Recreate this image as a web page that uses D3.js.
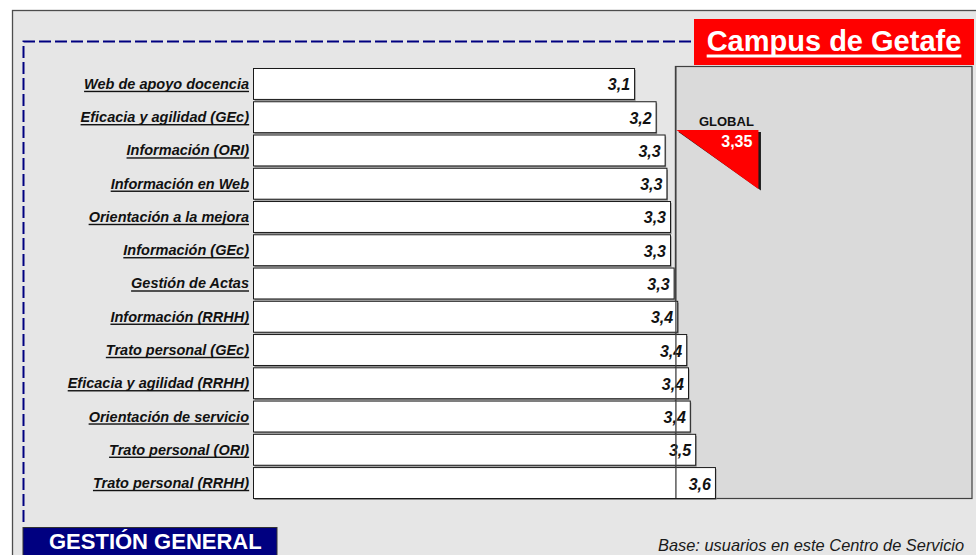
<!DOCTYPE html>
<html>
<head>
<meta charset="utf-8">
<script src="https://cdn.jsdelivr.net/npm/d3@7/dist/d3.min.js"></script>
<style>
  html, body { margin: 0; padding: 0; background: #ffffff; }
  svg { display: block; font-family: "Liberation Sans", Arial, sans-serif; }
</style>
</head>
<body>
<svg id="chart" width="976" height="555"></svg>
<script>
// Satisfaction scores (scale 1–5), Campus de Getafe, general management services
const categories = [
  "Web de apoyo docencia",
  "Eficacia y agilidad (GEc)",
  "Información (ORI)",
  "Información en Web",
  "Orientación a la mejora",
  "Información (GEc)",
  "Gestión de Actas",
  "Información (RRHH)",
  "Trato personal (GEc)",
  "Eficacia y agilidad (RRHH)",
  "Orientación de servicio",
  "Trato personal (ORI)",
  "Trato personal (RRHH)"
];
const scores = [3.12, 3.24, 3.29, 3.30, 3.32, 3.32, 3.34, 3.36, 3.41, 3.42, 3.43, 3.46, 3.57];
const globalScore = 3.35;
const scaleDomain = [1, 5];

const titleText = "Campus de Getafe";
const sectionText = "GESTIÓN GENERAL";
const globalLabel = "GLOBAL";
const baseNote = "Base: usuarios en este Centro de Servicio";

const locale = d3.formatLocale({ decimal: ",", thousands: ".", grouping: [3], currency: ["", " €"] });
const fmt1 = locale.format(".1f");
const fmt2 = locale.format(".2f");

const svg = d3.select("#chart");

// Panel background
svg.append("rect")
  .attr("x", 12.5).attr("y", 10.5)
  .attr("width", 980).attr("height", 560)
  .attr("fill", "#e6e6e6")
  .attr("stroke", "#4d4d4d").attr("stroke-width", 1.3);

// Dashed frame
svg.append("path")
  .attr("d", "M23.5,522 L23.5,41.5 L694,41.5")
  .attr("fill", "none")
  .attr("stroke", "#000080").attr("stroke-width", 2)
  .attr("stroke-dasharray", "12,4");

// Title box
svg.append("rect")
  .attr("x", 694).attr("y", 19).attr("width", 280).attr("height", 46)
  .attr("fill", "#ff0000");
const title = svg.append("text")
  .attr("x", 834).attr("y", 51)
  .attr("text-anchor", "middle")
  .attr("fill", "#ffffff")
  .attr("font-weight", "bold")
  .attr("font-size", 29)
  .text(titleText);
{
  const b = title.node().getBBox();
  svg.append("rect")
    .attr("x", b.x).attr("y", 54.5).attr("width", b.width).attr("height", 3)
    .attr("fill", "#ffffff");
}

// Scales
const plotTop = 66, plotBottom = 498;
const x = d3.scaleLinear().domain(scaleDomain).range([253, 972]);
const y = d3.scaleBand().domain(categories).range([plotTop, plotBottom]).paddingInner(0.07).paddingOuter(0.03).align(1);

// Area beyond the global score
svg.append("rect")
  .attr("x", x(globalScore)).attr("y", plotTop + 0.5)
  .attr("width", x(scaleDomain[1]) - x(globalScore)).attr("height", plotBottom - plotTop)
  .attr("fill", "#dadada")
  .attr("stroke", "#404040").attr("stroke-width", 1.2);

const rows = categories.map((c, i) => ({ cat: c, val: scores[i] }));

// Bar shadows
svg.append("g").selectAll("rect")
  .data(rows).join("rect")
  .attr("x", x(scaleDomain[0]) + 1.5)
  .attr("y", d => y(d.cat) + 2)
  .attr("width", d => x(d.val) - x(scaleDomain[0]))
  .attr("height", y.bandwidth())
  .attr("fill", "#8c8c8c");

// Bars
svg.append("g").selectAll("rect")
  .data(rows).join("rect")
  .attr("x", x(scaleDomain[0]) + 0.5)
  .attr("y", d => y(d.cat) + 0.5)
  .attr("width", d => x(d.val) - x(scaleDomain[0]))
  .attr("height", y.bandwidth())
  .attr("fill", "#ffffff")
  .attr("stroke", "#1a1a1a").attr("stroke-width", 1);

// Value labels
svg.append("g").selectAll("text")
  .data(rows).join("text")
  .attr("x", d => x(d.val) - 4)
  .attr("y", d => y(d.cat) + y.bandwidth() / 2 + 7)
  .attr("text-anchor", "end")
  .attr("font-size", 16)
  .attr("font-weight", "bold")
  .attr("font-style", "italic")
  .attr("fill", "#111111")
  .text(d => fmt1(d.val));

// Global reference line
svg.append("line")
  .attr("x1", x(globalScore) + 0.5).attr("x2", x(globalScore) + 0.5)
  .attr("y1", plotTop).attr("y2", plotBottom)
  .attr("stroke", "#404040").attr("stroke-width", 1.3);

// Category labels (underlined)
const labelG = svg.append("g");
rows.forEach(d => {
  const cy = y(d.cat) + y.bandwidth() / 2 + 5.5;
  const t = labelG.append("text")
    .attr("x", 249).attr("y", cy)
    .attr("text-anchor", "end")
    .attr("font-size", 14.5)
    .attr("font-weight", "bold")
    .attr("font-style", "italic")
    .attr("fill", "#111111")
    .text(d.cat);
  const b = t.node().getBBox();
  labelG.append("rect")
    .attr("x", b.x).attr("y", cy + 1.8)
    .attr("width", b.width).attr("height", 1.4)
    .attr("fill", "#111111");
});

// Global marker
const gx = x(globalScore);
const triTop = 130, triBottom = 189, triW = 83;
svg.append("path")
  .attr("d", `M${gx + 3},${triTop + 2} L${gx + triW + 2.5},${triTop + 2} L${gx + triW + 2.5},${triBottom + 1.5} Z`)
  .attr("fill", "#1a1a1a");
svg.append("path")
  .attr("d", `M${gx + 1},${triTop} L${gx + triW},${triTop} L${gx + triW},${triBottom} Z`)
  .attr("fill", "#ff0000");
svg.append("text")
  .attr("x", gx + 51).attr("y", 126)
  .attr("text-anchor", "middle")
  .attr("font-size", 13)
  .attr("font-weight", "bold")
  .attr("fill", "#111111")
  .text(globalLabel);
svg.append("text")
  .attr("x", gx + 77).attr("y", 147)
  .attr("text-anchor", "end")
  .attr("font-size", 16)
  .attr("font-weight", "bold")
  .attr("fill", "#ffffff")
  .text(fmt2(globalScore));

// Section box
svg.append("rect")
  .attr("x", 23).attr("y", 527.5).attr("width", 254).attr("height", 40)
  .attr("fill", "#000080")
  .attr("stroke", "#333333").attr("stroke-width", 1);
svg.append("text")
  .attr("x", 49).attr("y", 548.5)
  .attr("font-size", 22)
  .attr("font-weight", "bold")
  .attr("fill", "#ffffff")
  .text(sectionText);

// Base note
svg.append("text")
  .attr("x", 658).attr("y", 551)
  .attr("font-size", 16.4)
  .attr("font-style", "italic")
  .attr("fill", "#1a1a1a")
  .text(baseNote);
</script>
</body>
</html>
